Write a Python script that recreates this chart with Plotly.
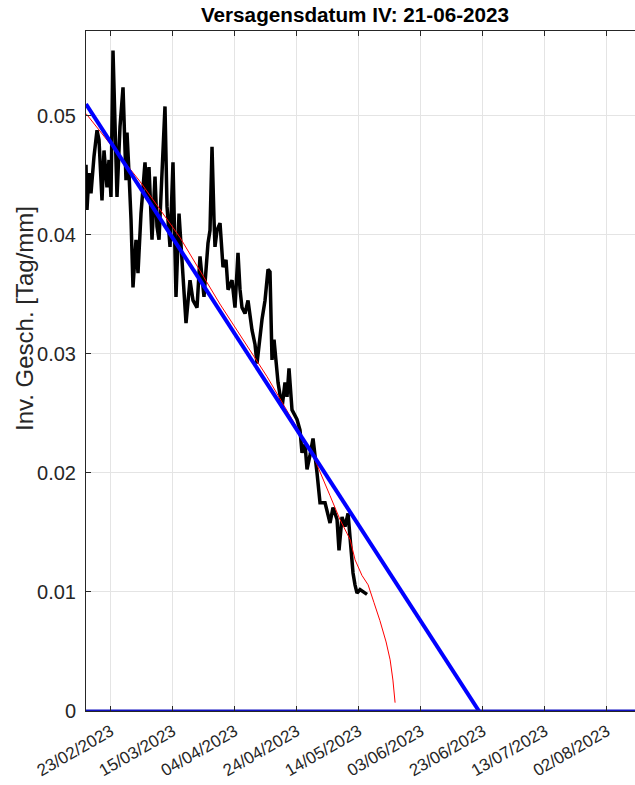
import pandas as pd
import plotly.graph_objects as go

# ---- data ----
base_date = "2023-02-15"

# measured inverse velocity (days after base_date, value in Tag/mm)
meas_days = [0.00, 0.32, 0.97, 1.61, 2.58, 3.55, 4.19, 5.16, 5.81, 6.77, 7.42, 8.06,
             8.71, 9.68, 10.00, 10.97, 11.94, 12.90, 13.23, 13.87, 14.52, 15.16, 16.13,
             16.77, 17.74, 19.03, 19.68, 20.32, 21.29, 22.26, 22.90, 23.55, 25.48, 26.13,
             27.10, 28.06, 29.03, 30.00, 30.97, 32.26, 33.55, 34.52, 35.81, 36.77, 38.06,
             39.35, 40.00, 40.65, 41.29, 41.61, 42.26, 43.23, 44.19, 45.16, 45.81, 47.10,
             48.06, 49.03, 49.68, 50.32, 51.29, 52.26, 53.55, 54.52, 55.16, 56.13, 56.77,
             57.74, 58.71, 59.35, 60.00, 60.65, 61.61, 61.94, 63.23, 64.19, 64.84, 65.48,
             66.45, 68.06, 69.03, 69.68, 70.65, 71.29, 72.26, 73.23, 74.52, 75.48, 77.10,
             78.71, 79.68, 80.97, 81.61, 82.58, 83.55, 84.52, 85.16, 86.13, 86.77, 87.42,
             88.39, 89.35, 90.00, 90.65]
meas_vals = [0.0459, 0.0421, 0.0452, 0.0435, 0.0466, 0.0488, 0.0480, 0.0429, 0.0471, 0.0440,
             0.0463, 0.0432, 0.0555, 0.0446, 0.0432, 0.0491, 0.0524, 0.0446, 0.0486, 0.0452,
             0.0413, 0.0356, 0.0396, 0.0368, 0.0418, 0.0461, 0.0432, 0.0457, 0.0396, 0.0449,
             0.0407, 0.0396, 0.0508, 0.0424, 0.0390, 0.0461, 0.0348, 0.0418, 0.0376, 0.0326,
             0.0362, 0.0345, 0.0339, 0.0382, 0.0348, 0.0393, 0.0404, 0.0474, 0.0413, 0.0390,
             0.0404, 0.0410, 0.0373, 0.0379, 0.0354, 0.0362, 0.0339, 0.0385, 0.0354, 0.0339,
             0.0334, 0.0345, 0.0320, 0.0308, 0.0292, 0.0316, 0.0329, 0.0345, 0.0371, 0.0369,
             0.0295, 0.0312, 0.0289, 0.0276, 0.0255, 0.0276, 0.0264, 0.0288, 0.0253, 0.0245,
             0.0236, 0.0217, 0.0224, 0.0203, 0.0215, 0.0229, 0.0200, 0.0175, 0.0175, 0.0158,
             0.0171, 0.0161, 0.0135, 0.0163, 0.0155, 0.0166, 0.0146, 0.0116, 0.0106, 0.0099,
             0.0102, 0.0100, 0.0099, 0.0098]

# red model curve
model_days = [0.0, 17.4, 30.3, 43.2, 58.4, 65.8, 73.2, 78.7, 81.9, 85.2, 86.8, 89.0,
              91.0, 92.9, 94.8, 96.8, 98.1, 99.0, 99.7]
model_vals = [0.0502, 0.0445, 0.0398, 0.0342, 0.0281, 0.0248, 0.0215, 0.0181, 0.0161, 0.0144,
              0.0127, 0.0114, 0.0106, 0.0091, 0.0076, 0.0058, 0.0043, 0.0026, 0.0007]

# blue linear fit (inverse velocity method)
fit_dates = ["2023-02-15", "2023-06-21 18:00"]
fit_vals = [0.0510, 0.0]

# zero line
zero_dates = ["2023-02-15", "2023-08-12"]
zero_vals = [0.0, 0.0]

tick_dates = ["2023-02-23", "2023-03-15", "2023-04-04", "2023-04-24", "2023-05-14",
              "2023-06-03", "2023-06-23", "2023-07-13", "2023-08-02"]
tick_labels = ["23/02/2023", "15/03/2023", "04/04/2023", "24/04/2023", "14/05/2023",
               "03/06/2023", "23/06/2023", "13/07/2023", "02/08/2023"]
y_ticks = [0, 0.01, 0.02, 0.03, 0.04, 0.05]

title_text = "Versagensdatum IV: 21-06-2023"
y_title = "Inv. Gesch. [Tag/mm]"

x_range = ["2023-02-15 00:00", "2023-08-11 02:00"]
y_range = [0, 0.05714]

# ---- build ----
b = pd.Timestamp(base_date)
meas_x = [b + pd.Timedelta(days=d) for d in meas_days]
model_x = [b + pd.Timedelta(days=d) for d in model_days]

fig = go.Figure()
fig.add_trace(go.Scatter(x=meas_x, y=meas_vals, mode="lines",
                         line=dict(color="black", width=3.5), showlegend=False))
fig.add_trace(go.Scatter(x=model_x, y=model_vals, mode="lines",
                         line=dict(color="#ff0000", width=1), showlegend=False))
fig.add_trace(go.Scatter(x=fit_dates, y=fit_vals, mode="lines",
                         line=dict(color="#0000ff", width=4), showlegend=False))
fig.add_trace(go.Scatter(x=zero_dates, y=zero_vals, mode="lines",
                         line=dict(color="#1010c0", width=3), showlegend=False))

font_family = "Liberation Sans, Arial, sans-serif"

W, H = 635, 785
L, T, B = 86, 31, 74
fig.update_layout(
    width=W, height=H,
    margin=dict(l=L, r=0, t=T, b=B),
    paper_bgcolor="white", plot_bgcolor="white",
    font=dict(family=font_family, color="#262626", size=18),
    title=dict(text="<b>" + title_text + "</b>", x=355 / W, xref="container", xanchor="center",
               y=1 - 15 / H, yref="container", yanchor="middle",
               font=dict(size=20.7, color="black", family=font_family)),
    xaxis=dict(type="date", range=x_range, tickvals=tick_dates, ticktext=tick_labels,
               tickangle=-30, ticks="inside", ticklen=5, tickcolor="#262626",
               showline=True, linecolor="#262626", linewidth=1, mirror="ticks",
               showgrid=True, gridcolor="#e4e4e4", gridwidth=1, zeroline=False,
               automargin=False, ticklabelstandoff=3,
               tickfont=dict(size=17, color="#262626")),
    yaxis=dict(range=y_range, tickvals=y_ticks, ticks="inside", ticklen=5,
               tickcolor="#262626", showline=True, linecolor="#262626", linewidth=1,
               showgrid=True, gridcolor="#e4e4e4", gridwidth=1, zeroline=False,
               automargin=False, ticklabelstandoff=5,
               tickfont=dict(size=20, color="#262626")),
    annotations=[dict(text=y_title, xref="paper", yref="paper",
                      x=-(L - 24) / (W - L), y=(H - B - 319) / (H - B - T),
                      xanchor="center", yanchor="middle", textangle=-90, showarrow=False,
                      font=dict(size=24, color="#262626", family=font_family))],
)

fig.write_html("out.html", config={"displayModeBar": False},
               post_script="document.body.style.margin='0';document.body.style.overflow='hidden';")
